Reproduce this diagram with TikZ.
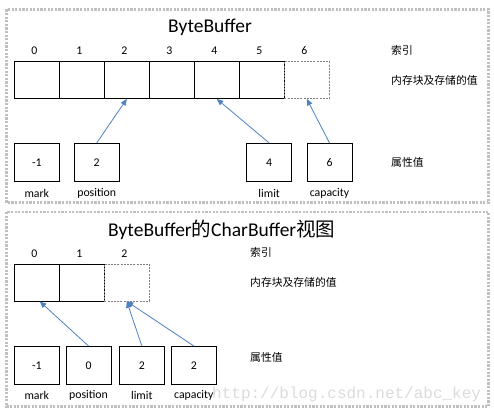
\documentclass[tikz,border=0pt]{standalone}
\usepackage{fontspec}
\setmainfont{Carlito}
\newfontfamily\cjk{Noto Sans CJK SC}
\newfontfamily\wmfont{Liberation Mono}
\usetikzlibrary{arrows.meta,positioning}
\definecolor{arrowblue}{RGB}{79,129,189}
\definecolor{framegray}{RGB}{192,192,192}
\tikzset{
  panel/.style = {draw = framegray, line width = 2.2, dash pattern = on 2.2 off 1.4},
  cell/.style = {draw = black, line width = .9, minimum width = 45, minimum height = 37, inner sep = 0},
  ghost/.style = {cell, draw = gray, dashed, dash pattern = on 2 off 1.2, line width = .7},
  prop/.style = {draw = black, line width = 1, minimum width = 45, minimum height = 38, inner sep = 0, font = \fontsize{11.8}{13}\selectfont},
  idx/.style = {font = \fontsize{11.8}{13}\selectfont, inner sep = 0},
  propname/.style = {font = \fontsize{11.8}{13}\selectfont, inner sep = 0},
  side/.style = {font = \cjk\fontsize{10.8}{13}\selectfont, anchor = west, inner sep = 0},
  bigtitle/.style = {font = \fontsize{19.5}{22}\selectfont, inner sep = 0},
  watermark/.style = {text = black!14, font = \wmfont\fontsize{16}{18}\selectfont, anchor = west, inner sep = 0},
  ptr/.style = {draw = arrowblue, line width = .8, -{Triangle[length=6.5pt,width=5.5pt]}}
}
\begin{document}
\begin{tikzpicture}[x=1pt,y=-1pt]
  \useasboundingbox (0,0) rectangle (494,414);
  \draw[panel] (6.5,9.5) rectangle (488.5,202.5);
  \draw[panel] (6.5,212) rectangle (488.5,406.5);
  % ByteBuffer
  \node[bigtitle] (ttitle) at (210,27) {ByteBuffer};
  \foreach \i in {0,...,5}{
    \node[cell] (t\i) at (36.8+45*\i,80){};
  }
  \node[ghost] (t6) at (36.8+45*6,80){};
  \foreach \i in {0,...,6}{
    \node[idx] (ti\i) at (34.3+45*\i,50.7) {\i};
  }
  \node[side] (tidx) at (391,50.5) {索引};
  \node[side] (tmem) at (391,80) {内存块及存储的值};
  \node[side] (tattr) at (391,162.5) {属性值};
  \foreach \n/\v/\x in {mark/-1/36.8,position/2/96.7,limit/4/269.2,capacity/6/329.5}{
    \node[prop] (t\n) at (\x,162.5) {\v};
    \node[propname] (t\n l) at (\x,193.3) {\n};
  }
  \draw[ptr] (tposition.north) -- (t2.south);
  \draw[ptr] (tlimit.north) -- (t4.south);
  \draw[ptr] (tcapacity.north) -- (t6.south);
  % CharBuffer view
  \node[watermark] (wm) at (212,394) {http://blog.csdn.net/abc\_key};
  \node[bigtitle] (btitle) at (221.7,230) {ByteBuffer{\cjk 的}CharBuffer{\cjk 视图}};
  \foreach \i in {0,1}{
    \node[cell] (b\i) at (36.8+45*\i,282.5){};
  }
  \node[ghost] (b2) at (36.8+45*2,282.5){};
  \foreach \i in {0,1,2}{
    \node[idx] (bi\i) at (34.3+45*\i,253.3) {\i};
  }
  \node[side] (bidx) at (250,252.7) {索引};
  \node[side] (bmem) at (250,282.7) {内存块及存储的值};
  \node[side] (battr) at (250,357.3) {属性值};
  \foreach \n/\v/\x in {mark/-1/36.8,position/0/88.5,limit/2/141.8,capacity/2/193.8}{
    \node[prop] (b\n) at (\x,365.5) {\v};
    \node[propname] (b\n l) at (\x,395.7) {\n};
  }
  \draw[ptr] (bposition.north) -- ([xshift=3]b0.south);
  \draw[ptr] (blimit.north) -- (b2.south);
  \draw[ptr] (bcapacity.north) -- (b2.south);
\end{tikzpicture}
\end{document}
